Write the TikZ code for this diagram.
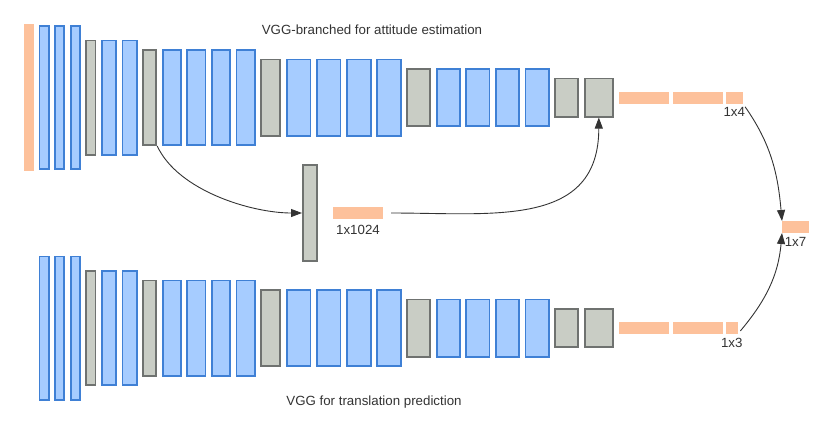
\documentclass[tikz,border=0pt]{standalone}
\usepackage{fontspec}
\setmainfont{Liberation Sans}
\usepackage{tikz}
\usetikzlibrary{arrows.meta,positioning}
\definecolor{convbg}{HTML}{A6CCFF}
\definecolor{convbd}{HTML}{3F80D5}
\definecolor{poolbg}{HTML}{C9CDC5}
\definecolor{poolbd}{HTML}{6F7270}
\definecolor{fcbg}{HTML}{FDC19B}
\definecolor{arrink}{HTML}{333333}
\definecolor{txt}{HTML}{333333}
\tikzset{
  convbox/.style={rectangle,draw=convbd,line width=1.8pt,fill=convbg,inner sep=0pt},
  poolbox/.style={rectangle,draw=poolbd,line width=1.8pt,fill=poolbg,inner sep=0pt},
  fcbox/.style={rectangle,fill=fcbg,inner sep=0pt,outer sep=0pt,minimum height=12pt},
  netarr/.style={-{Triangle[length=11pt,width=8pt]},line width=0.9pt,color=arrink},
  netlabel/.style={font=\fontsize{13.3}{16}\selectfont,text=txt,inner sep=0pt},
}

\begin{document}
\begin{tikzpicture}[x=1pt, y=1pt, node distance=4.6pt]
  \useasboundingbox (0,0) rectangle (830,-429);

  % attitude branch
  \node[fcbox, minimum width=10pt, minimum height=147pt, anchor=west] (ain) at (24,-97.5) {};
  \node[convbox, minimum width=9.2pt, minimum height=143.2pt, right=of ain] (ac1) {};
  \node[convbox, minimum width=9.2pt, minimum height=143.2pt, right=of ac1] (ac2) {};
  \node[convbox, minimum width=9.2pt, minimum height=143.2pt, right=of ac2] (ac3) {};
  \node[poolbox, minimum width=9.2pt, minimum height=114.2pt, right=of ac3] (ap1) {};
  \node[convbox, minimum width=14.2pt, minimum height=114.2pt, right=of ap1] (ac4) {};
  \node[convbox, minimum width=14.2pt, minimum height=114.2pt, right=of ac4] (ac5) {};
  \node[poolbox, minimum width=13.2pt, minimum height=95.2pt, right=of ac5] (ap2) {};
  \node[convbox, minimum width=18.2pt, minimum height=95.2pt, right=of ap2] (ac6) {};
  \node[convbox, minimum width=18.2pt, minimum height=95.2pt, right=of ac6] (ac7) {};
  \node[convbox, minimum width=18.2pt, minimum height=95.2pt, right=of ac7] (ac8) {};
  \node[convbox, minimum width=18.2pt, minimum height=95.2pt, right=of ac8] (ac9) {};
  \node[poolbox, minimum width=19.2pt, minimum height=76.2pt, right=of ac9] (ap3) {};
  \node[convbox, minimum width=23.7pt, minimum height=76.2pt, right=of ap3] (ac10) {};
  \node[convbox, minimum width=23.7pt, minimum height=76.2pt, right=of ac10] (ac11) {};
  \node[convbox, minimum width=23.7pt, minimum height=76.2pt, right=of ac11] (ac12) {};
  \node[convbox, minimum width=23.7pt, minimum height=76.2pt, right=of ac12] (ac13) {};
  \node[poolbox, minimum width=23.2pt, minimum height=57.2pt, right=of ac13] (ap4) {};
  \node[convbox, minimum width=23.2pt, minimum height=57.2pt, right=of ap4] (ac14) {};
  \node[convbox, minimum width=23.2pt, minimum height=57.2pt, right=of ac14] (ac15) {};
  \node[convbox, minimum width=23.2pt, minimum height=57.2pt, right=of ac15] (ac16) {};
  \node[convbox, minimum width=23.2pt, minimum height=57.2pt, right=of ac16] (ac17) {};
  \node[poolbox, minimum width=23.2pt, minimum height=38.2pt, right=of ac17] (ap5) {};
  \node[poolbox, minimum width=28.2pt, minimum height=38.2pt, right=of ap5] (ap6) {};
  \node[fcbox, minimum width=50pt, right=5pt of ap6] (afc1) {};
  \node[fcbox, minimum width=50pt, right=4pt of afc1] (afc2) {};
  \node[fcbox, minimum width=17pt, right=3pt of afc2] (afc3) {};
  \node[netlabel, below=4pt of afc3] (dim4) {1x4};

  % translation branch
  \node[convbox, minimum width=9.2pt, minimum height=143.2pt, anchor=west] (tc1) at (38.6,-328) {};
  \node[convbox, minimum width=9.2pt, minimum height=143.2pt, right=of tc1] (tc2) {};
  \node[convbox, minimum width=9.2pt, minimum height=143.2pt, right=of tc2] (tc3) {};
  \node[poolbox, minimum width=9.2pt, minimum height=114.2pt, right=of tc3] (tp1) {};
  \node[convbox, minimum width=14.2pt, minimum height=114.2pt, right=of tp1] (tc4) {};
  \node[convbox, minimum width=14.2pt, minimum height=114.2pt, right=of tc4] (tc5) {};
  \node[poolbox, minimum width=13.2pt, minimum height=95.2pt, right=of tc5] (tp2) {};
  \node[convbox, minimum width=18.2pt, minimum height=95.2pt, right=of tp2] (tc6) {};
  \node[convbox, minimum width=18.2pt, minimum height=95.2pt, right=of tc6] (tc7) {};
  \node[convbox, minimum width=18.2pt, minimum height=95.2pt, right=of tc7] (tc8) {};
  \node[convbox, minimum width=18.2pt, minimum height=95.2pt, right=of tc8] (tc9) {};
  \node[poolbox, minimum width=19.2pt, minimum height=76.2pt, right=of tc9] (tp3) {};
  \node[convbox, minimum width=23.7pt, minimum height=76.2pt, right=of tp3] (tc10) {};
  \node[convbox, minimum width=23.7pt, minimum height=76.2pt, right=of tc10] (tc11) {};
  \node[convbox, minimum width=23.7pt, minimum height=76.2pt, right=of tc11] (tc12) {};
  \node[convbox, minimum width=23.7pt, minimum height=76.2pt, right=of tc12] (tc13) {};
  \node[poolbox, minimum width=23.2pt, minimum height=57.2pt, right=of tc13] (tp4) {};
  \node[convbox, minimum width=23.2pt, minimum height=57.2pt, right=of tp4] (tc14) {};
  \node[convbox, minimum width=23.2pt, minimum height=57.2pt, right=of tc14] (tc15) {};
  \node[convbox, minimum width=23.2pt, minimum height=57.2pt, right=of tc15] (tc16) {};
  \node[convbox, minimum width=23.2pt, minimum height=57.2pt, right=of tc16] (tc17) {};
  \node[poolbox, minimum width=23.2pt, minimum height=38.2pt, right=of tc17] (tp5) {};
  \node[poolbox, minimum width=28.2pt, minimum height=38.2pt, right=of tp5] (tp6) {};
  \node[fcbox, minimum width=50pt, right=5pt of tp6] (tfc1) {};
  \node[fcbox, minimum width=50pt, right=4pt of tfc1] (tfc2) {};
  \node[fcbox, minimum width=12pt, right=3pt of tfc2] (tfc3) {};
  \node[netlabel, below=4pt of tfc3] (dim3) {1x3};

  % side branch and output
  \node[poolbox, minimum width=14.2pt, minimum height=96.2pt] (feat) at (310,-213) {};
  \node[fcbox, minimum width=50pt] (emb) at (358,-213) {};
  \node[netlabel, below=6pt of emb] (dim1024) {1x1024};
  \node[fcbox, minimum width=27pt] (pose) at (795.5,-227) {};
  \node[netlabel, below=4pt of pose] (dim7) {1x7};

  \node[netlabel, anchor=base] (atttitle) at (372,-34) {VGG-branched for attitude estimation};
  \node[netlabel, anchor=base] (trtitle) at (374,-405) {VGG for translation prediction};

  \draw[netarr] (ap2.south east) to[out=-65,in=180,looseness=0.8] (feat);
  \draw[netarr, shorten <=8pt] (emb) to[out=0,in=-90,looseness=1.2] (ap6);
  \draw[netarr, shorten <=4pt] (afc3.south east) to[out=-55,in=95] (pose.north west);
  \draw[netarr, shorten <=4pt] (tfc3.south east) to[out=50,in=-95] (pose.south west);
\end{tikzpicture}
\end{document}
